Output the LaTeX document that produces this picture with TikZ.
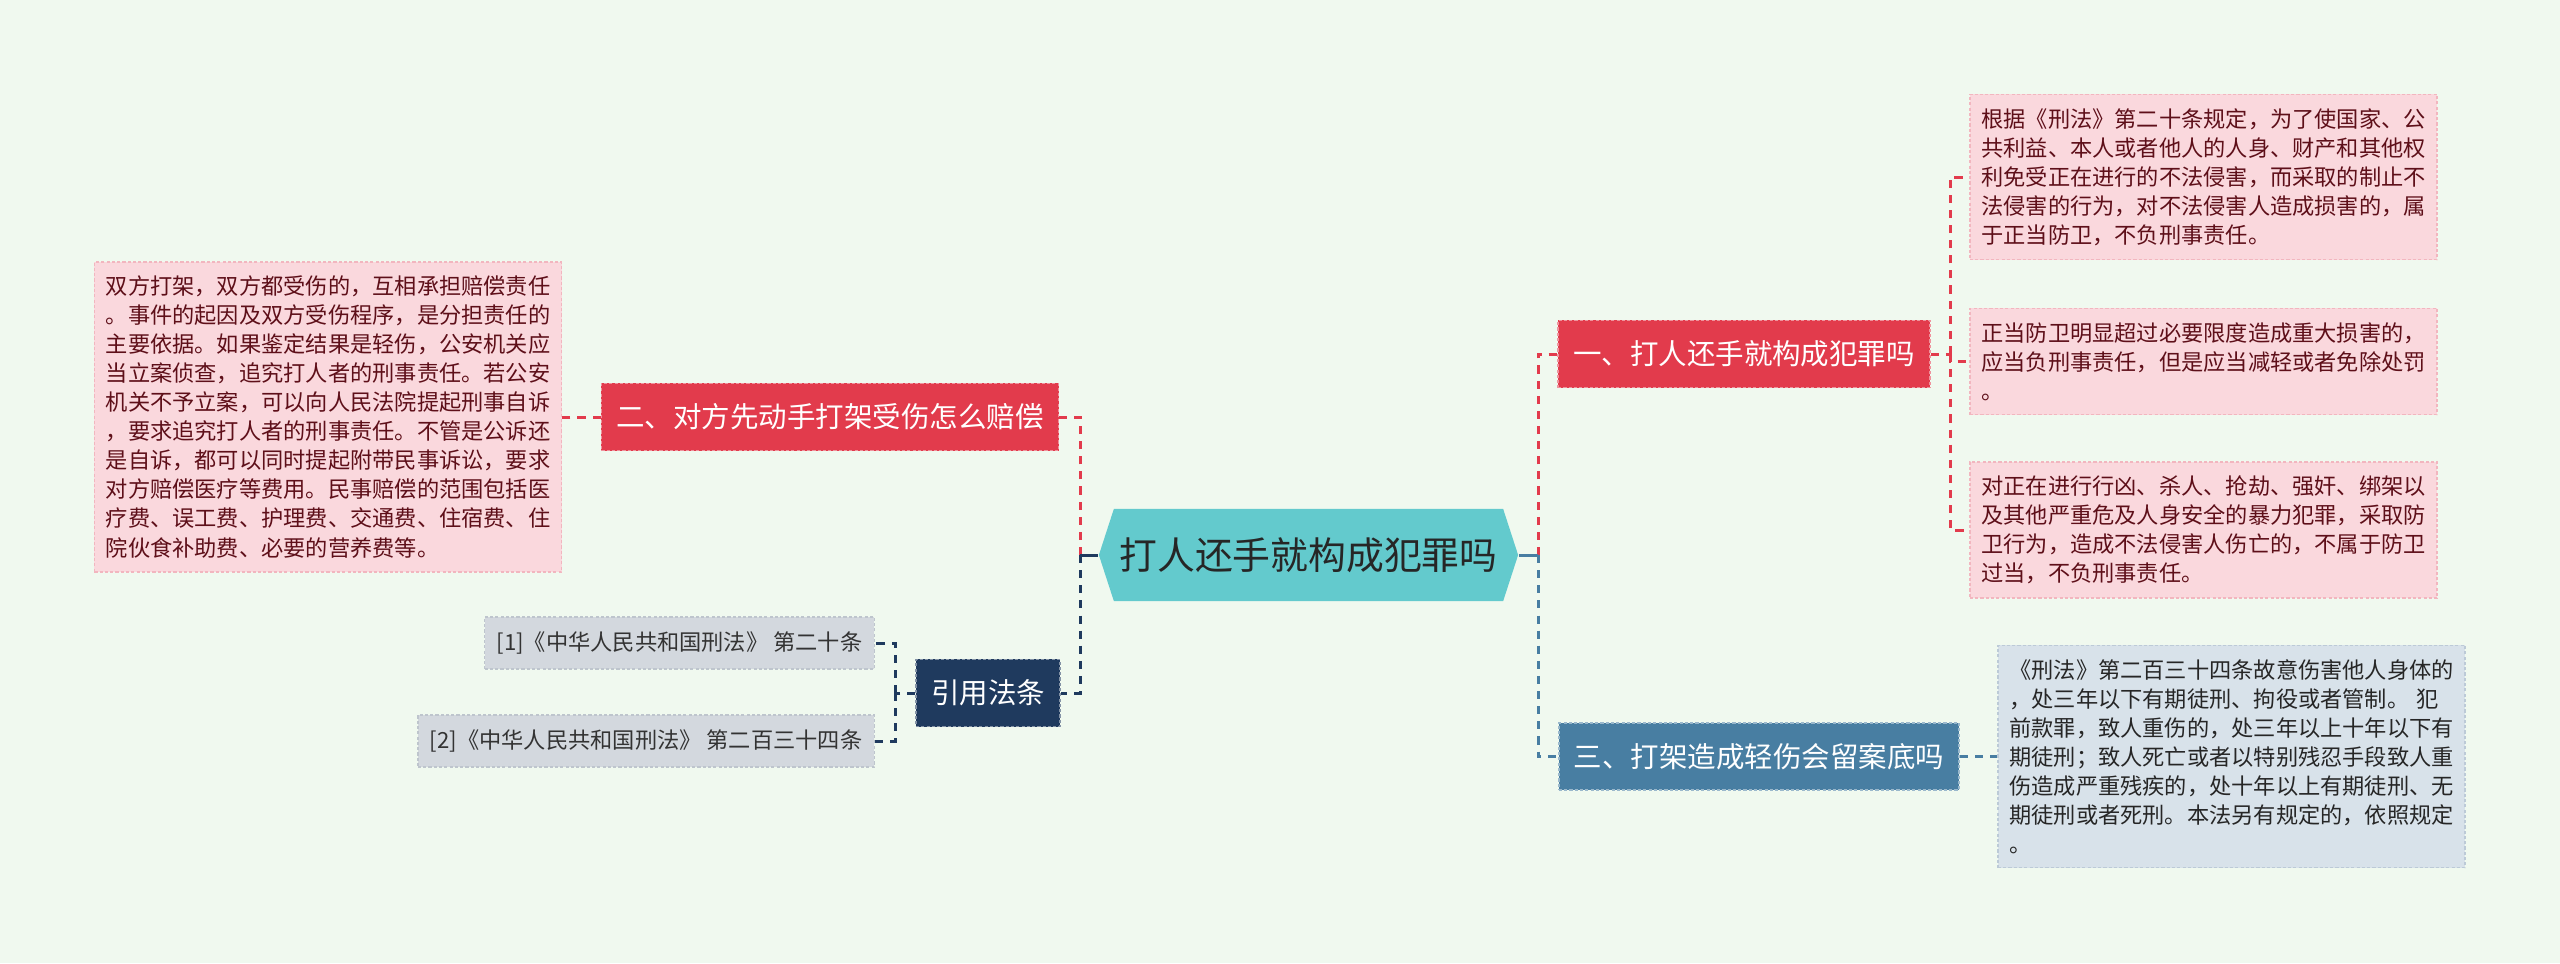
\documentclass[tikz,border=0pt]{standalone}
\usepackage{fontspec}
\setmainfont{Noto Sans CJK SC}
\usetikzlibrary{shapes.symbols}

\definecolor{bgcol}{HTML}{F0F9EF}
\definecolor{hubcol}{HTML}{63CACD}
\definecolor{redcol}{HTML}{E23B4C}
\definecolor{bluecol}{HTML}{487EA2}
\definecolor{navycol}{HTML}{1F3A5E}
\definecolor{pinkcol}{HTML}{FAD8DD}
\definecolor{pinkedge}{HTML}{F2B6BF}
\definecolor{pinktext}{HTML}{5E0F19}
\definecolor{greycol}{HTML}{D3D8DE}
\definecolor{greyedge}{HTML}{BEC5CD}
\definecolor{paleblue}{HTML}{D8E2EA}
\definecolor{paleedge}{HTML}{BCCAD7}

\tikzstyle{hub} = [signal, signal to=west and east, signal pointer angle=144,
    fill=hubcol, text=black!85, minimum width=4.19cm, minimum height=0.92cm,
    inner sep=0pt, font=\fontsize{10.75}{12}\selectfont]
\tikzstyle{branch} = [rectangle, draw, dash pattern=on 0.9pt off 0.6pt, line width=0.4pt,
    text=white, minimum height=0.67cm, inner xsep=0.15cm, font=\fontsize{8.1}{9}\selectfont]
\tikzstyle{redbranch} = [branch, fill=redcol, draw=redcol!55!white]
\tikzstyle{bluebranch} = [branch, fill=bluecol, draw=bluecol!55!white]
\tikzstyle{navybranch} = [branch, fill=navycol, draw=navycol!55!white]
\tikzstyle{leaf} = [rectangle, draw, dash pattern=on 0.9pt off 0.6pt, line width=0.4pt,
    text width=4.44cm, inner xsep=0.115cm, inner ysep=0.14cm, align=left,
    font=\fontsize{6.32}{8.25}\selectfont]
\tikzstyle{pinkleaf} = [leaf, fill=pinkcol, draw=pinkedge, text=pinktext]
\tikzstyle{blueleaf} = [leaf, fill=paleblue, draw=paleedge, text=black!85]
\tikzstyle{lawleaf} = [rectangle, draw, dash pattern=on 0.9pt off 0.6pt, line width=0.4pt,
    fill=greycol, draw=greyedge, text=black!80, minimum height=0.52cm, inner xsep=0.12cm,
    anchor=east, font=\fontsize{6.32}{8}\selectfont]
\tikzstyle{line} = [draw, line width=0.85pt, dash pattern=on 2.3pt off 2pt]
\tikzstyle{stub} = [draw, line width=0.85pt]

\begin{document}
\begin{tikzpicture}[x=0.01cm, y=-0.01cm]
	\fill [bgcol] (0,0) rectangle (2560,963);
	\useasboundingbox (0,0) rectangle (2560,963);

	\node [hub] (root) at (1308.5,555) {打人还手就构成犯罪吗};

	\node [redbranch] (selfdef) at (1744,354) {一、打人还手就构成犯罪吗};
	\node [redbranch] (compensate) at (830,417) {二、对方先动手打架受伤怎么赔偿};
	\node [bluebranch] (record) at (1759,756.5) {三、打架造成轻伤会留案底吗};
	\node [navybranch] (laws) at (988,693) {引用法条};

	\node [pinkleaf] (art20) at (2203.5,177) {根据《刑法》第二十条规定，为了使国家、公\\共利益、本人或者他人的人身、财产和其他权\\利免受正在进行的不法侵害，而采取的制止不\\法侵害的行为，对不法侵害人造成损害的，属\\于正当防卫，不负刑事责任。};
	\node [pinkleaf] (excess) at (2203.5,361.5) {正当防卫明显超过必要限度造成重大损害的，\\应当负刑事责任，但是应当减轻或者免除处罚\\。};
	\node [pinkleaf] (violent) at (2203.5,530) {对正在进行行凶、杀人、抢劫、强奸、绑架以\\及其他严重危及人身安全的暴力犯罪，采取防\\卫行为，造成不法侵害人伤亡的，不属于防卫\\过当，不负刑事责任。};
	\node [blueleaf] (art234) at (2231.5,756.5) {《刑法》第二百三十四条故意伤害他人身体的\\，处三年以下有期徒刑、拘役或者管制。 犯\\前款罪，致人重伤的，处三年以上十年以下有\\期徒刑；致人死亡或者以特别残忍手段致人重\\伤造成严重残疾的，处十年以上有期徒刑、无\\期徒刑或者死刑。本法另有规定的，依照规定\\。};
	\node [pinkleaf] (detail) at (328,417) {双方打架，双方都受伤的，互相承担赔偿责任\\。事件的起因及双方受伤程序，是分担责任的\\主要依据。如果鉴定结果是轻伤，公安机关应\\当立案侦查，追究打人者的刑事责任。若公安\\机关不予立案，可以向人民法院提起刑事自诉\\，要求追究打人者的刑事责任。不管是公诉还\\是自诉，都可以同时提起附带民事诉讼，要求\\对方赔偿医疗等费用。民事赔偿的范围包括医\\疗费、误工费、护理费、交通费、住宿费、住\\院伙食补助费、必要的营养费等。};
	\node [lawleaf] (law1) at (875,643) {[1]《中华人民共和国刑法》 第二十条};
	\node [lawleaf] (law2) at (875,741) {[2]《中华人民共和国刑法》 第二百三十四条};

	\coordinate (rj) at (1538,555);
	\coordinate (lj) at (1080,555);
	\coordinate (sj) at (1950,354);
	\coordinate (lawj) at (895,693);

	\path [line, redcol] (rj) |- (selfdef.west);
	\path [line, bluecol] (rj) |- (record.west);
	\path [stub, bluecol] (root.east) -- (rj);
	\path [line, redcol] (lj) |- (compensate.east);
	\path [line, navycol] (lj) |- (laws.east);
	\path [stub, navycol] (root.west) -- (lj);

	\path [line, redcol] (selfdef.east) -- (sj);
	\path [line, redcol] (sj) |- (art20.west);
	\path [line, redcol] (sj) |- (excess.west);
	\path [line, redcol] (sj) |- (violent.west);
	\path [line, redcol] (compensate.west) -- (detail.east);
	\path [line, bluecol] (record.east) -- (art234.west);
	\path [line, navycol] (laws.west) -- (lawj);
	\path [line, navycol] (lawj) |- (law1.east);
	\path [line, navycol] (lawj) |- (law2.east);
\end{tikzpicture}
\end{document}
